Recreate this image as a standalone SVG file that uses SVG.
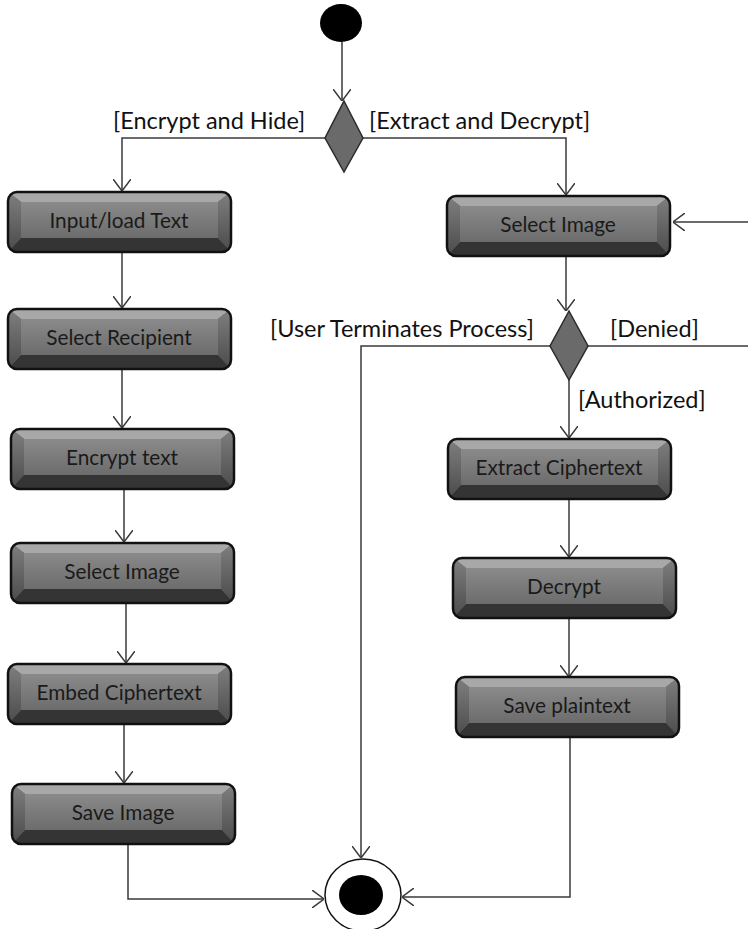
<svg xmlns="http://www.w3.org/2000/svg" xmlns:xlink="http://www.w3.org/1999/xlink" width="748" height="929" viewBox="0 0 748 929">
<style>
.conn{fill:none;stroke:#3a3a3a;stroke-width:1.5}
.lbl{font-family:"Lato","Liberation Sans",sans-serif;font-size:23.5px;fill:#111}
.nt{font-family:"Lato","Liberation Sans",sans-serif;font-size:20.8px;fill:#1a1a1a;text-anchor:middle}
.dia{fill:#6a6a6a;stroke:#2a2a2a;stroke-width:1.5}
</style>
<defs>
<marker id="arr" viewBox="0 0 12 18" refX="12" refY="9" markerWidth="12" markerHeight="18" markerUnits="userSpaceOnUse" orient="auto">
<path d="M0,0 L12,9 L0,18" fill="none" stroke="#3a3a3a" stroke-width="1.5"/>
</marker>
<linearGradient id="face" x1="0" y1="0" x2="0" y2="1">
<stop offset="0" stop-color="#8a8a8a"/>
<stop offset="1" stop-color="#6c6c6c"/>
</linearGradient>
<linearGradient id="lside" x1="0" y1="0" x2="0" y2="1">
<stop offset="0" stop-color="#808080"/>
<stop offset="1" stop-color="#4a4a4a"/>
</linearGradient>
<clipPath id="bclip"><rect x="1" y="1" width="223" height="60" rx="9"/></clipPath>
<g id="btn">
<g clip-path="url(#bclip)">
<rect x="0" y="0" width="225" height="62" fill="#555"/>
<polygon points="0,0 225,0 211,11 14,11" fill="#a8a8a8"/>
<polygon points="0,62 225,62 211,47 14,47" fill="#343434"/>
<polygon points="0,0 14,11 14,47 0,62" fill="url(#lside)"/>
<polygon points="225,0 211,11 211,47 225,62" fill="url(#lside)"/>
<rect x="14" y="11" width="197" height="36" fill="url(#face)"/>
</g>
<rect x="1" y="1" width="223" height="60" rx="9" fill="none" stroke="#111" stroke-width="2.5"/>
</g>
</defs>
<rect width="748" height="929" fill="#fff"/>

<g id="connectors">
<path class="conn" d="M342,42 V101" marker-end="url(#arr)"/>
<path class="conn" d="M325,138 H122 V191" marker-end="url(#arr)"/>
<path class="conn" d="M363,138 H566 V195" marker-end="url(#arr)"/>
<path class="conn" d="M122,253 V308" marker-end="url(#arr)"/>
<path class="conn" d="M122,370 V428" marker-end="url(#arr)"/>
<path class="conn" d="M124,490 V542" marker-end="url(#arr)"/>
<path class="conn" d="M126,604 V663" marker-end="url(#arr)"/>
<path class="conn" d="M124,725 V783" marker-end="url(#arr)"/>
<path class="conn" d="M128,845 V899 H324" marker-end="url(#arr)"/>
<path class="conn" d="M566,257 V311" marker-end="url(#arr)"/>
<path class="conn" d="M550,346 H361 V858" marker-end="url(#arr)"/>
<path class="conn" d="M588,346 H748"/>
<path class="conn" d="M748,222 H673" marker-end="url(#arr)"/>
<path class="conn" d="M569,380 V438" marker-end="url(#arr)"/>
<path class="conn" d="M569,500 V557" marker-end="url(#arr)"/>
<path class="conn" d="M569,619 V677" marker-end="url(#arr)"/>
<path class="conn" d="M570,737 V897 H402" marker-end="url(#arr)"/>
</g>

<g id="labels">
<text class="lbl" x="113" y="129">[Encrypt and Hide]</text>
<text class="lbl" x="369" y="129">[Extract and Decrypt]</text>
<text class="lbl" x="270" y="337">[User Terminates Process]</text>
<text class="lbl" x="610" y="337">[Denied]</text>
<text class="lbl" x="578" y="408">[Authorized]</text>
</g>

<g id="start"><ellipse cx="341" cy="23" rx="21" ry="19" fill="#000"/></g>
<g id="decision1"><polygon class="dia" points="344,101 363,138 344,172 325,138"/></g>
<g id="decision2"><polygon class="dia" points="569,311 588,346 569,380 550,346"/></g>

<g id="n_input" transform="translate(7,191)"><use xlink:href="#btn"/><text class="nt" x="112" y="37">Input/load Text</text></g>
<g id="n_recipient" transform="translate(7,308)"><use xlink:href="#btn"/><text class="nt" x="112" y="37">Select Recipient</text></g>
<g id="n_encrypt" transform="translate(10,428)"><use xlink:href="#btn"/><text class="nt" x="112" y="37">Encrypt text</text></g>
<g id="n_selimg_l" transform="translate(10,542)"><use xlink:href="#btn"/><text class="nt" x="112" y="37">Select Image</text></g>
<g id="n_embed" transform="translate(7,663)"><use xlink:href="#btn"/><text class="nt" x="112" y="37">Embed Ciphertext</text></g>
<g id="n_saveimg" transform="translate(11,783)"><use xlink:href="#btn"/><text class="nt" x="112" y="37">Save Image</text></g>
<g id="n_selimg_r" transform="translate(446,195)"><use xlink:href="#btn"/><text class="nt" x="112" y="37">Select Image</text></g>
<g id="n_extract" transform="translate(447,438)"><use xlink:href="#btn"/><text class="nt" x="112" y="37">Extract Ciphertext</text></g>
<g id="n_decrypt" transform="translate(452,557)"><use xlink:href="#btn"/><text class="nt" x="112" y="37">Decrypt</text></g>
<g id="n_saveplain" transform="translate(455,676)"><use xlink:href="#btn"/><text class="nt" x="112" y="37">Save plaintext</text></g>

<g id="end">
<ellipse cx="363" cy="895" rx="38" ry="36" fill="#fff" stroke="#111" stroke-width="1.5"/>
<ellipse cx="361" cy="895" rx="22" ry="20" fill="#000"/>
</g>
</svg>
